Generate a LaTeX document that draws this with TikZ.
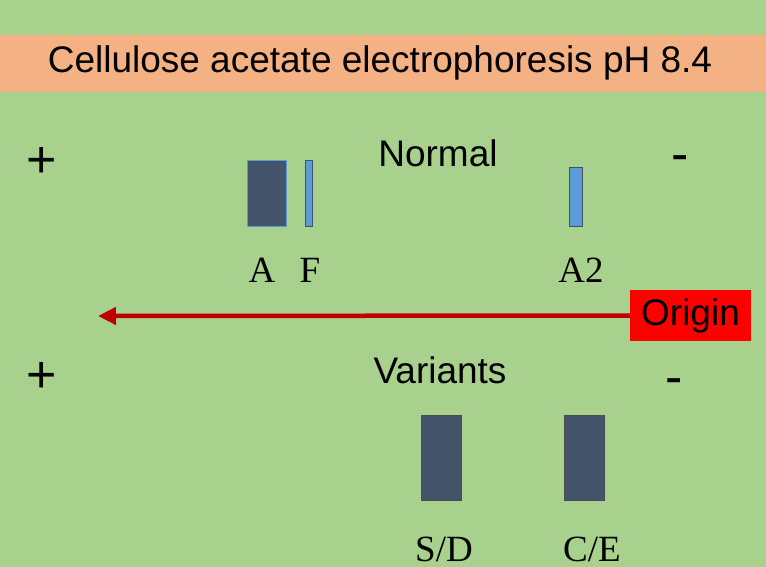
\documentclass[tikz,border=0pt]{standalone}
\usepackage{fontspec}
\setmainfont{Liberation Sans}
\newfontfamily\serifA{Liberation Serif}
\usetikzlibrary{arrows.meta}
\definecolor{bg}{HTML}{A9D18E}
\definecolor{ttl}{HTML}{F4B183}
\definecolor{band}{HTML}{44546A}
\definecolor{lband}{HTML}{5B9BD5}
\definecolor{arr}{HTML}{C00000}
\tikzset{
 sans/.style={font=\fontsize{37}{40}\selectfont, inner sep=0pt},
 big/.style={font=\fontsize{52}{56}\selectfont, inner sep=0pt},
 lab/.style={font=\serifA\fontsize{37}{40}\selectfont, inner sep=0pt},
 dark/.style={fill=band, draw=black!70, line width=0.8pt},
 light/.style={fill=lband, draw=band, line width=0.6pt},
}
\begin{document}
\begin{tikzpicture}[x=1pt,y=-1pt]
\fill[bg] (0,0) rectangle (766,567);
\useasboundingbox (0,0) rectangle (766,567);
\fill[ttl] (0,35) rectangle (766,92);
\node[sans] (title) at (380,63) {Cellulose acetate electrophoresis pH 8.4};
\node[big] (p1) at (42,162) {+};
\node[sans] (normal) at (438,153) {Normal};
\node[big] (m1) at (680,164) {-};
\draw[dark, draw=lband] (247,160) rectangle (286,226);
\draw[light] (305,160) rectangle (312,226);
\draw[light] (569,167) rectangle (582,226);
\node[lab] (la) at (262,270) {A};
\node[lab] (lf) at (310,270) {F};
\node[lab] (la2) at (581,270) {A2};
\node[sans, fill=red, minimum width=121pt, minimum height=51pt] (origin) at (690.5,315.5) {Origin};
\coordinate (tip) at (98,316);
\draw[arr, line width=4.5pt, -{Triangle[length=18pt,width=17pt]}] (origin.west) -- (tip);
\node[big] (p2) at (42,377) {+};
\node[sans] (var) at (440,370) {Variants};
\node[big] (m2) at (674,387) {-};
\draw[dark] (421,415) rectangle (461,500);
\draw[dark] (564,415) rectangle (604,500);
\node[lab] (sd) at (444,549) {S/D};
\node[lab] (ce) at (592,549) {C/E};
\end{tikzpicture}
\end{document}
